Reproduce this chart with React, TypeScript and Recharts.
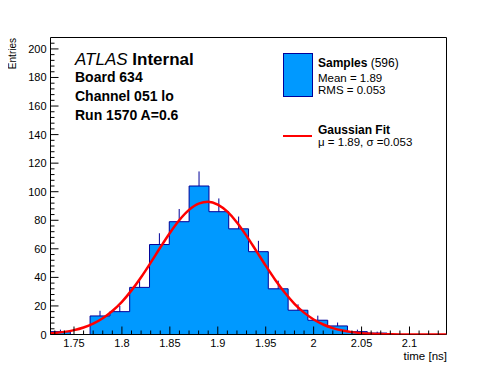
import React from "react";
import {
  ComposedChart,
  Area,
  Line,
  XAxis,
  YAxis,
  ErrorBar,
  ReferenceArea,
} from "recharts";

// ---- data ----
const X_MIN = 1.7255;
const X_MAX = 2.1386;
const Y_MAX = 208;

const BIN_LOW = [
  1.7255, 1.7462, 1.7668, 1.7875, 1.8081, 1.8288, 1.8494, 1.8701, 1.8908, 1.9114,
  1.9321, 1.9527, 1.9734, 1.994, 2.0147, 2.0353, 2.056, 2.0766, 2.0973, 2.1179,
];
const COUNTS = [2, 0, 13, 16, 33, 63, 79, 104, 86, 74, 58, 32, 17, 10, 6, 2, 1, 0, 0, 0];
const ERRORS = [1.4, 0, 3.6, 4, 5.7, 7.9, 8.9, 10.2, 9.3, 8.6, 7.6, 5.7, 4.1, 3.2, 2.4, 1.4, 1, 0, 0, 0];

const FIT_X = [
  1.7255, 1.73, 1.74, 1.75, 1.76, 1.77, 1.78, 1.79, 1.8, 1.81, 1.82, 1.83, 1.84, 1.85,
  1.86, 1.87, 1.88, 1.89, 1.9, 1.91, 1.92, 1.93, 1.94, 1.95, 1.96, 1.97, 1.98, 1.99,
  2.0, 2.01, 2.02, 2.03, 2.04, 2.05, 2.06, 2.07, 2.08, 2.09, 2.1, 2.12, 2.1386,
];
const FIT_Y = [
  0.83, 1.07, 1.84, 3.06, 4.92, 7.62, 11.4, 16.5, 22.9, 30.9, 40.1, 50.3, 60.9, 71.1,
  80.2, 87.3, 91.7, 93.0, 91.0, 86.0, 78.5, 69.1, 58.7, 48.2, 38.2, 29.2, 21.5, 15.3,
  10.5, 7.0, 4.49, 2.77, 1.66, 0.95, 0.53, 0.28, 0.15, 0.07, 0.03, 0.01, 0,
];

const Y_TICKS = [
  0, 4, 8, 12, 16, 20, 24, 28, 32, 36, 40, 44, 48, 52, 56, 60, 64, 68, 72, 76, 80, 84,
  88, 92, 96, 100, 104, 108, 112, 116, 120, 124, 128, 132, 136, 140, 144, 148, 152, 156,
  160, 164, 168, 172, 176, 180, 184, 188, 192, 196, 200, 204,
];
const Y_MAJOR = [0, 20, 40, 60, 80, 100, 120, 140, 160, 180, 200];

const X_TICKS = [
  1.73, 1.74, 1.75, 1.76, 1.77, 1.78, 1.79, 1.8, 1.81, 1.82, 1.83, 1.84, 1.85, 1.86,
  1.87, 1.88, 1.89, 1.9, 1.91, 1.92, 1.93, 1.94, 1.95, 1.96, 1.97, 1.98, 1.99, 2.0,
  2.01, 2.02, 2.03, 2.04, 2.05, 2.06, 2.07, 2.08, 2.09, 2.1, 2.11, 2.12, 2.13,
];
const X_MAJOR_LABELS: Record<string, string> = {
  "1.75": "1.75",
  "1.80": "1.8",
  "1.85": "1.85",
  "1.90": "1.9",
  "1.95": "1.95",
  "2.00": "2",
  "2.05": "2.05",
  "2.10": "2.1",
};

const FONT = '"Liberation Sans", Arial, Helvetica, sans-serif';
const FILL = "#0099ff";
const EDGE = "#000099";

const histData = [
  ...BIN_LOW.map((lo, i) => ({ x: lo, y: COUNTS[i] })),
  { x: X_MAX, y: COUNTS[COUNTS.length - 1] },
];
const errData = BIN_LOW.map((lo, i) => {
  const hi = i + 1 < BIN_LOW.length ? BIN_LOW[i + 1] : X_MAX;
  return { x: (lo + hi) / 2, y: COUNTS[i], e: [0, ERRORS[i]] };
});
const fitData = FIT_X.map((x, i) => ({ x, y: FIT_Y[i] }));

const XTick = (props: any) => {
  const { x, y, payload } = props;
  const key = Number(payload.value).toFixed(2);
  const label = X_MAJOR_LABELS[key];
  const len = label ? 8 : 4;
  return (
    <g>
      <line x1={x} y1={y} x2={x} y2={y - len} stroke="#000" strokeWidth={1} />
      {label && (
        <text x={x} y={y + 12.5} textAnchor="middle" fontFamily={FONT} fontSize={11} fill="#000">
          {label}
        </text>
      )}
    </g>
  );
};

const YTick = (props: any) => {
  const { x, y, payload } = props;
  const v = Number(payload.value);
  const major = Y_MAJOR.includes(v);
  const len = major ? 8 : 4;
  return (
    <g>
      <line x1={x} y1={y} x2={x + len} y2={y} stroke="#000" strokeWidth={1} />
      {major && (
        <text x={x - 4} y={y + 4} textAnchor="end" fontFamily={FONT} fontSize={11} fill="#000">
          {v}
        </text>
      )}
    </g>
  );
};

export default function App() {
  return (
    <div style={{ position: "relative", width: 480, height: 356 }}>
      <ComposedChart
        width={480}
        height={356}
        margin={{ top: 29.5, right: 41.5, bottom: 28.5, left: 41.5 }}
        style={{ background: "#fff" }}
      >
        <XAxis
          dataKey="x"
          type="number"
          domain={[X_MIN, X_MAX]}
          allowDataOverflow
          ticks={X_TICKS}
          interval={0}
          tick={<XTick />}
          tickLine={false}
          axisLine={false}
          tickSize={0}
          tickMargin={0}
          height={1}
        />
        <YAxis
          type="number"
          domain={[0, Y_MAX]}
          allowDataOverflow
          ticks={Y_TICKS}
          interval={0}
          tick={<YTick />}
          tickLine={false}
          axisLine={false}
          tickSize={0}
          tickMargin={0}
          width={1}
        />
        <Area
          data={histData}
          dataKey="y"
          type="stepAfter"
          fill={FILL}
          fillOpacity={1}
          stroke={EDGE}
          strokeWidth={1}
          isAnimationActive={false}
          baseValue={0}
        />
        <Line
          data={errData}
          dataKey="y"
          stroke="none"
          dot={false}
          activeDot={false}
          isAnimationActive={false}
        >
          <ErrorBar dataKey="e" direction="y" width={0} stroke={EDGE} strokeWidth={1} />
        </Line>
        <Line
          data={fitData}
          dataKey="y"
          type="monotone"
          stroke="#ff0000"
          strokeWidth={2.5}
          dot={false}
          activeDot={false}
          isAnimationActive={false}
        />
        <ReferenceArea
          x1={X_MIN}
          x2={X_MAX}
          y1={0}
          y2={Y_MAX}
          fill="none"
          fillOpacity={0}
          stroke="#000"
          strokeWidth={1}
          ifOverflow="extendDomain"
        />
      </ComposedChart>
      <svg
        width={480}
        height={356}
        style={{ position: "absolute", left: 0, top: 0, pointerEvents: "none", overflow: "visible" }}
        fontFamily={FONT}
      >
        <text x={67} y={57} fontSize={17} fill="#000">
          <tspan fontStyle="italic">ATLAS</tspan>
          <tspan fontWeight="bold"> Internal</tspan>
        </text>
        <text x={67} y={74} fontSize={14} fontWeight="bold" fill="#000">Board 634</text>
        <text x={67} y={93} fontSize={14} fontWeight="bold" fill="#000">Channel 051 lo</text>
        <text x={67} y={112} fontSize={14} fontWeight="bold" fill="#000">Run 1570 A=0.6</text>

        <rect x={275.5} y={45.5} width={29} height={43} fill={FILL} stroke={EDGE} strokeWidth={1} />
        <text x={310} y={58.5} fontSize={12} fill="#000">
          <tspan fontWeight="bold">Samples</tspan>
          <tspan> (596)</tspan>
        </text>
        <text x={310} y={73.5} fontSize={11.5} fill="#000">Mean = 1.89</text>
        <text x={310} y={86} fontSize={11.5} fill="#000">RMS = 0.053</text>

        <line x1={275} y1={128} x2={304} y2={128} stroke="#ff0000" strokeWidth={2} />
        <text x={310} y={125.5} fontSize={12} fontWeight="bold" fill="#000">Gaussian Fit</text>
        <text x={310} y={137.5} fontSize={11.5} fill="#000">μ = 1.89, σ =0.053</text>

        <text x={439} y={351.5} fontSize={11.5} textAnchor="end" fill="#000">time [ns]</text>
        <text
          x={0}
          y={0}
          fontSize={10}
          textAnchor="end"
          fill="#000"
          transform="translate(7.5,30) rotate(-90)"
        >
          Entries
        </text>
      </svg>
    </div>
  );
}
